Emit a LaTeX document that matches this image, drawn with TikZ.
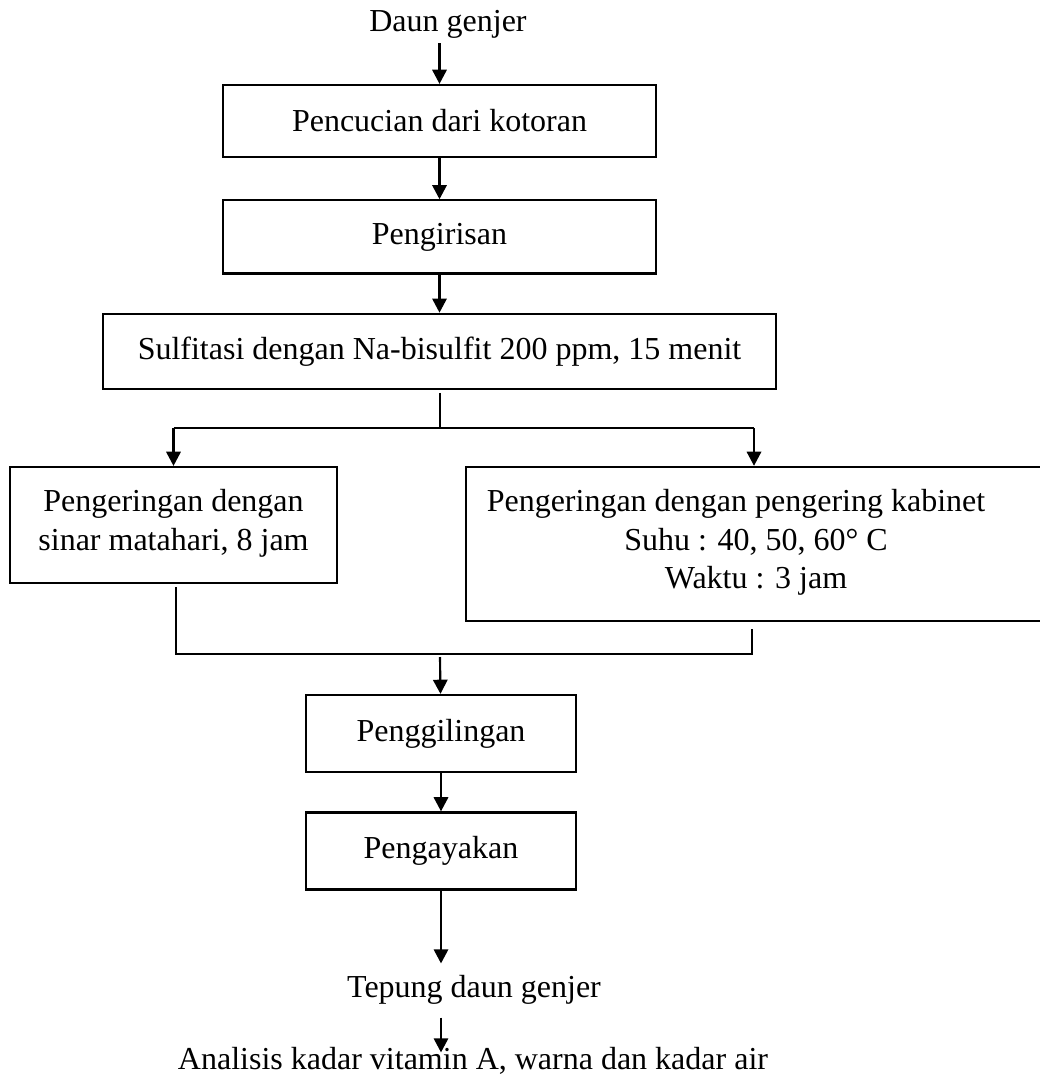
\documentclass[tikz,border=0pt]{standalone}
\usepackage{fontspec}
\setmainfont{Liberation Serif}
\usetikzlibrary{arrows.meta, positioning, calc}

\begin{document}
\begin{tikzpicture}[
    x=0.375pt, y=-0.375pt,
    box/.style={rectangle, draw=black, line width=0.85pt, inner sep=0pt, align=center, font=\fontsize{12}{14.6}\selectfont},
    txt/.style={inner sep=1.5pt, align=center, font=\fontsize{12}{14.6}\selectfont},
    arrow/.style={line width=0.8pt, -{Triangle[length=5.3pt, width=5.4pt]}},
    line/.style={line width=0.6pt}
]
\useasboundingbox (0,0) rectangle (1040,1075);

% Raw material
\node[txt] (leaf) at (448,24.5) {Daun genjer};

% Washing, slicing and sulfiting
\node[box, minimum width=162.4pt, minimum height=27pt] (wash) at (439.5,121) {Pencucian dari kotoran};
\node[box, minimum width=162.4pt, minimum height=27.4pt, below=15.4pt of wash] (slice) {Pengirisan};
\node[box, minimum width=252.4pt, minimum height=28.1pt, below=14.3pt of slice] (sulfite) {Sulfitasi dengan Na-bisulfit 200 ppm, 15 menit};

% Two drying methods
\node[box, minimum width=122.6pt, minimum height=43.5pt] (sundry) at (173.5,525) {Pengeringan dengan\\sinar matahari, 8 jam\\[-10.8pt]};
\node[box, minimum width=217.5pt, minimum height=57.8pt] (cabinet) at (756,544) {\hspace*{-15pt}Pengeringan dengan pengering kabinet\\Suhu : 40, 50, 60° C\\Waktu : 3 jam\\[-10.8pt]};

% Milling and sieving
\node[box, minimum width=101.3pt, minimum height=28.9pt] (mill) at (441,733.5) {Penggilingan};
\node[box, minimum width=101.3pt, minimum height=28.9pt, below=14.3pt of mill] (sieve) {Pengayakan};

% Product and analysis
\node[txt] (flour) at (474,989.5) {Tepung daun genjer};
\node[txt] (analysis) at (473,1060.5) {Analisis kadar vitamin A, warna dan kadar air};

% Branch and join points
\coordinate (split) at (440,428);
\coordinate (splitL) at (173.5,428);
\coordinate (splitR) at (754,428);
\coordinate (joinL) at (176,654);
\coordinate (joinR) at (752,654);
\coordinate (join) at (440,654);

% Arrows
\draw[arrow] (leaf.south -| wash.north) -- (wash);
\draw[arrow] (wash) -- (slice);
\draw[arrow] (slice) -- (sulfite);
\draw[line] ($(sulfite.south)+(0.5,3)$) -- (split);
\draw[line] (splitL) -- (splitR);
\draw[arrow] (splitL) -- (sundry.north);
\draw[arrow] (splitR) -- (splitR |- cabinet.north);
\draw[line] ($(sundry.south -| joinL)+(0,3)$) -- (joinL) -- (joinR) -- ($(cabinet.south -| joinR)+(0,7)$);
\draw[arrow] ($(join)+(0,3)$) -- (mill);
\draw[arrow] (mill) -- (sieve);
\draw[arrow] (sieve) -- ($(sieve.south |- flour.north)+(0,-7)$);
\draw[arrow] ($(flour.south -| sieve.south)+(0,9)$) -- ($(analysis.north -| sieve.south)+(0,10)$);

\end{tikzpicture}
\end{document}
